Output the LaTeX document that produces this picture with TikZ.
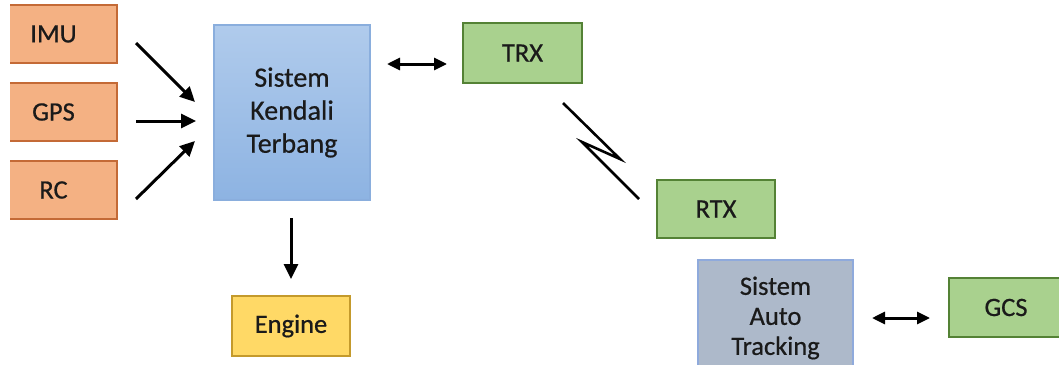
\documentclass[tikz,border=0pt]{standalone}
\usepackage{fontspec}
\setmainfont{Carlito}
\newfontfamily\lblfont{Carlito}[FakeBold=0.6]
\usetikzlibrary{arrows.meta}
\definecolor{orfill}{HTML}{F4B183}
\definecolor{ordraw}{HTML}{C46A36}
\definecolor{bltop}{HTML}{B0CBEC}
\definecolor{blbot}{HTML}{8DB3E2}
\definecolor{bldraw}{HTML}{8AAEDD}
\definecolor{grfill}{HTML}{A9D18E}
\definecolor{grdraw}{HTML}{548235}
\definecolor{yefill}{HTML}{FFD966}
\definecolor{yedraw}{HTML}{C49A2C}
\definecolor{gyfill}{HTML}{ADB9CA}
\definecolor{gydraw}{HTML}{8FAADC}
\definecolor{txt}{HTML}{1A1A1A}
\tikzset{
  blk/.style={rectangle, inner sep=0pt, align=center, text=txt,
    font=\lblfont\fontsize{26.5}{30}\selectfont},
  sensor/.style={blk, fill=orfill, draw=ordraw, line width=2.2pt,
    minimum width=127pt, minimum height=58pt},
  radio/.style={blk, fill=grfill, draw=grdraw, line width=2.2pt,
    minimum height=59pt},
  arr/.style={line width=3pt, -{Triangle[length=15pt,width=14pt]}},
  darr/.style={line width=3pt, {Triangle[length=13pt,width=12pt]}-{Triangle[length=13pt,width=12pt]}},
}
\begin{document}
\begin{tikzpicture}[x=1pt,y=-1pt]
\useasboundingbox (0,0) rectangle (1059,364);
\clip (10,0) rectangle (1059,364);

% sensors
\node[sensor] (imu) at (53.5,34) {IMU};
\node[sensor] (gps) at (53.5,112) {GPS};
\node[sensor] (rc)  at (53.5,190) {RC};

% flight controller
\node[blk, top color=bltop, bottom color=blbot, draw=bldraw, line width=1.6pt,
      minimum width=156pt, minimum height=175pt,
      font=\lblfont\fontsize{28}{33}\selectfont] (skt) at (292,112.5)
      {Sistem\\Kendali\\Terbang};

% engine
\node[blk, fill=yefill, draw=yedraw, line width=2.2pt,
      minimum width=118pt, minimum height=60pt] (eng) at (291,326) {Engine};

% radio links
\node[radio, minimum width=119pt, minimum height=60pt] (trx) at (522.5,53) {TRX};
\node[radio, minimum width=118pt, minimum height=58pt] (rtx) at (716,209) {RTX};
\node[radio, minimum width=114pt] (gcs) at (1006,307.5) {GCS};

% auto tracking
\node[blk, fill=gyfill, draw=gydraw, line width=1.6pt,
      minimum width=155pt, minimum height=116pt] (sat) at (775.5,318)
      {Sistem\\Auto\\Tracking};

% connector end points
\coordinate (imuO) at (136,43);   \coordinate (imuI) at (195,102);
\coordinate (gpsO) at (136,121);  \coordinate (gpsI) at (196,121);
\coordinate (rcO)  at (136,199);  \coordinate (rcI)  at (195,141);
\coordinate (sktE) at (387,64);   \coordinate (trxW) at (447,64);
\coordinate (sktS) at (291,218);  \coordinate (engN) at (291,279);
\coordinate (satE) at (872,318);  \coordinate (gcsW) at (930,318);
\coordinate (zA) at (563,103);    \coordinate (zB) at (620,159);
\coordinate (zC) at (582,142);    \coordinate (zD) at (639,199);

\draw[arr] (imuO) -- (imuI);
\draw[arr] (gpsO) -- (gpsI);
\draw[arr] (rcO) -- (rcI);
\draw[darr] (sktE) -- (trxW);
\draw[arr] (sktS) -- (engN);
\draw[darr] (satE) -- (gcsW);
\draw[line width=2.6pt, line join=miter] (zA) -- (zB) -- (zC) -- (zD);
\end{tikzpicture}
\end{document}
